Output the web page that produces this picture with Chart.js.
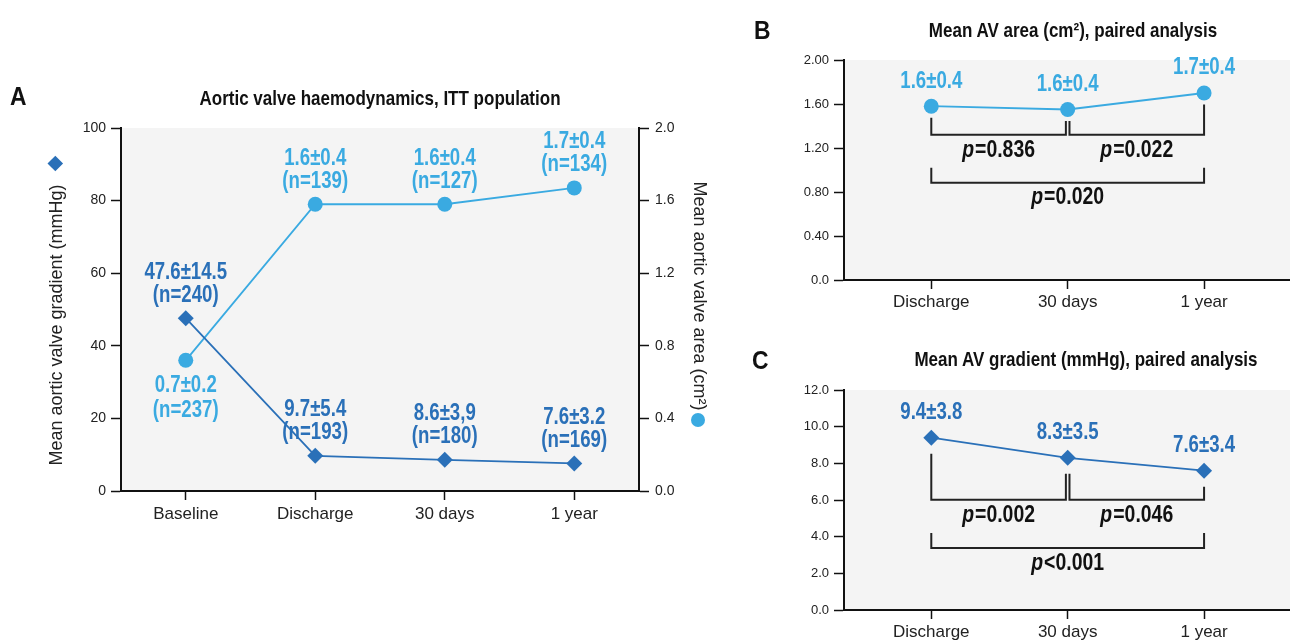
<!DOCTYPE html>
<html><head><meta charset="utf-8">
<script src="https://cdn.jsdelivr.net/npm/chart.js@4.4.1/dist/chart.umd.min.js"></script>
<style>
html,body{margin:0;padding:0;background:#fff;}
body{width:1290px;height:641px;overflow:hidden;position:relative;}
canvas{position:absolute;}
.t{position:absolute;white-space:nowrap;line-height:1;transform:translate(-50%,-50%);color:#111;}
.panel{position:absolute;font:bold 26px "Liberation Sans",sans-serif;line-height:1;transform:translateY(-50%) scaleX(0.88);transform-origin:0 50%;color:#111;}
.title{font:bold 21px "Liberation Sans",sans-serif;transform:translate(-50%,-50%) scaleX(0.81);transform-origin:50% 50%;}
.ax{font:18px "Liberation Sans",sans-serif;color:#222;}
</style></head><body>
<canvas id="cA" width="740" height="641" style="left:0;top:0"></canvas>
<canvas id="cB" width="550" height="330" style="left:740px;top:0"></canvas>
<canvas id="cC" width="550" height="330" style="left:740px;top:330px"></canvas>

<div class="panel" style="left:10px;top:96px">A</div>
<div class="t title" style="left:380px;top:97.5px">Aortic valve haemodynamics, ITT population</div>
<div class="panel" style="left:754px;top:29.5px">B</div>
<div class="t title" style="left:1073px;top:29.5px">Mean AV area (cm²), paired analysis</div>
<div class="panel" style="left:752px;top:360px">C</div>
<div class="t title" style="left:1086px;top:359px">Mean AV gradient (mmHg), paired analysis</div>
<div class="t ax" style="left:55.5px;top:325px;transform:translate(-50%,-50%) rotate(-90deg)">Mean aortic valve gradient (mmHg)</div>
<div class="t ax" style="left:699px;top:296px;transform:translate(-50%,-50%) rotate(90deg)">Mean aortic valve area (cm²)</div>
<div style="position:absolute;left:50px;top:158px;width:10.6px;height:10.6px;background:#2a70b8;transform:rotate(45deg)"></div>
<div style="position:absolute;left:691px;top:413px;width:14px;height:14px;border-radius:50%;background:#3aaae1"></div>

<script>
// ---------- data ----------
const categoriesA = ['Baseline', 'Discharge', '30 days', '1 year'];
const gradientA = [47.6, 9.7, 8.6, 7.6];
const areaA = [0.72, 1.58, 1.58, 1.67];
const gradientTextA = ['47.6±14.5', '9.7±5.4', '8.6±3,9', '7.6±3.2'];
const gradientNA = ['(n=240)', '(n=193)', '(n=180)', '(n=169)'];
const areaTextA = ['0.7±0.2', '1.6±0.4', '1.6±0.4', '1.7±0.4'];
const areaNA = ['(n=237)', '(n=139)', '(n=127)', '(n=134)'];
const gradientTicksA = [0, 20, 40, 60, 80, 100];
const areaTicksA = [0, 0.4, 0.8, 1.2, 1.6, 2.0];
const areaTickLabelsA = ['0.0', '0.4', '0.8', '1.2', '1.6', '2.0'];

const categoriesBC = ['Discharge', '30 days', '1 year'];
const areaB = [1.58, 1.55, 1.70];
const areaTextB = ['1.6±0.4', '1.6±0.4', '1.7±0.4'];
const pValuesB = ['=0.836', '=0.022', '=0.020'];
const areaTicksB = [0, 0.4, 0.8, 1.2, 1.6, 2.0];
const areaTickLabelsB = ['0.0', '0.40', '0.80', '1.20', '1.60', '2.00'];

const gradientC = [9.4, 8.3, 7.6];
const gradientTextC = ['9.4±3.8', '8.3±3.5', '7.6±3.4'];
const pValuesC = ['=0.002', '=0.046', '<0.001'];
const gradientTicksC = [0, 2, 4, 6, 8, 10, 12];
const gradientTickLabelsC = ['0.0', '2.0', '4.0', '6.0', '8.0', '10.0', '12.0'];

// ---------- style ----------
const DARK = '#2a70b8', LIGHT = '#3aaae1', INK = '#111', PLOTBG = '#f4f4f4';
const SANS = '"Liberation Sans", sans-serif';
const LBLFONT = 'bold 23px ' + SANS;
const SQ = 0.81; // horizontal squeeze to imitate a condensed face

function narrowText(ctx, text, x, y, sq) {
  ctx.save(); ctx.translate(x, y); ctx.scale(sq, 1); ctx.fillText(text, 0, 0); ctx.restore();
}

const bgPlugin = { id: 'plotbg', beforeDraw(chart) {
  const { ctx, chartArea: a } = chart;
  ctx.save(); ctx.fillStyle = PLOTBG;
  ctx.fillRect(a.left, a.top, a.right - a.left, a.bottom - a.top);
  ctx.restore();
}};

function labelPlugin(specs) {
  return { id: 'vlabels', afterDatasetsDraw(chart) {
    const ctx = chart.ctx;
    specs.forEach(s => {
      const meta = chart.getDatasetMeta(s.dataset);
      meta.data.forEach((pt, i) => {
        const lines = s.lines.map(arr => arr[i]);
        const below = s.below && s.below.includes(i);
        const offs = below ? [25.5, 50] : (lines.length === 2 ? [-46, -23] : [-25]);
        ctx.save();
        ctx.font = LBLFONT; ctx.fillStyle = s.color;
        ctx.textAlign = 'center'; ctx.textBaseline = 'middle';
        lines.forEach((t, k) => narrowText(ctx, t, pt.x, pt.y + offs[k], SQ));
        ctx.restore();
      });
    });
  }};
}

function drawP(ctx, text, cx, cy) {
  const fi = 'italic bold 24px ' + SANS, fb = 'bold 24px ' + SANS;
  ctx.font = fi; const w1 = ctx.measureText('p').width * SQ;
  ctx.font = fb; const w2 = ctx.measureText(text).width * SQ;
  const x = cx - (w1 + w2 + 1) / 2;
  ctx.textAlign = 'left'; ctx.textBaseline = 'middle'; ctx.fillStyle = INK;
  ctx.font = fi; narrowText(ctx, 'p', x, cy, SQ);
  ctx.font = fb; narrowText(ctx, text, x + w1 + 1, cy, SQ);
}

function bracketPlugin(pvals, g) {
  return { id: 'brackets', afterDatasetsDraw(chart) {
    const ctx = chart.ctx, xs = chart.scales.x, ys = chart.scales.y;
    const pts = chart.getDatasetMeta(0).data;
    const X = i => xs.getPixelForValue(i), Y = v => ys.getPixelForValue(v);
    ctx.save();
    ctx.strokeStyle = '#222'; ctx.lineWidth = 2; ctx.lineCap = 'butt';
    const bar = Y(g.bar);
    const pairs = [[0, 1, 0, -1.8], [1, 2, 1.8, 0]];
    pairs.forEach(([a, b, da, db]) => {
      const xa = X(a) + da, xb = X(b) + db;
      ctx.beginPath();
      ctx.moveTo(xa, pts[a].y + g.gap); ctx.lineTo(xa, bar);
      ctx.lineTo(xb, bar); ctx.lineTo(xb, pts[b].y + g.gap);
      ctx.stroke();
    });
    const top = Y(g.top), bar2 = Y(g.bar2);
    ctx.beginPath();
    ctx.moveTo(X(0), top); ctx.lineTo(X(0), bar2);
    ctx.lineTo(X(2), bar2); ctx.lineTo(X(2), top);
    ctx.stroke();
    drawP(ctx, pvals[0], (X(0) + X(1) - 1.8) / 2, Y(g.plab));
    drawP(ctx, pvals[1], (X(1) + 1.8 + X(2)) / 2, Y(g.plab));
    drawP(ctx, pvals[2], (X(0) + X(2)) / 2, Y(g.plab2));
    ctx.restore();
  }};
}

const tickGrid = (len) => ({ display: true, drawOnChartArea: false, drawTicks: true, tickLength: len, tickColor: INK, tickWidth: 1.5, offset: false });
const axBorder = { display: true, color: INK, width: 2 };

// ---------- Chart A ----------
new Chart(document.getElementById('cA'), {
  type: 'line',
  data: {
    labels: categoriesA,
    datasets: [
      { data: gradientA, yAxisID: 'y', borderColor: DARK, backgroundColor: DARK, borderWidth: 1.8,
        pointStyle: 'rectRot', pointRadius: 8, pointBorderWidth: 0, tension: 0 },
      { data: areaA, yAxisID: 'y2', borderColor: LIGHT, backgroundColor: LIGHT, borderWidth: 1.8,
        pointStyle: 'circle', pointRadius: 7.5, pointBorderWidth: 0, tension: 0 }
    ]
  },
  options: {
    responsive: false, animation: false, devicePixelRatio: 1,
    layout: { autoPadding: false, padding: { top: 128, bottom: 110, left: 0, right: 0 } },
    plugins: { legend: { display: false }, tooltip: { enabled: false }, title: { display: false } },
    scales: {
      x: { type: 'category', offset: true, grid: tickGrid(9), border: axBorder,
           ticks: { font: { family: SANS, size: 17 }, color: '#222', padding: 4, maxRotation: 0, autoSkip: false },
           afterFit(s) { s.height = 40; s.paddingLeft = 0; s.paddingRight = 0; } },
      y: { position: 'left', min: 0, max: 100, grid: tickGrid(10), border: axBorder,
           afterBuildTicks(s) { s.ticks = gradientTicksA.map(v => ({ value: v })); },
           ticks: { font: { family: SANS, size: 14 }, color: '#222', padding: 5 },
           afterFit(s) { s.width = 121; } },
      y2: { position: 'right', min: 0, max: 2, grid: tickGrid(10), border: axBorder,
           afterBuildTicks(s) { s.ticks = areaTicksA.map(v => ({ value: v })); },
           ticks: { font: { family: SANS, size: 14 }, color: '#222', padding: 6,
                    callback: (v, i) => areaTickLabelsA[i] },
           afterFit(s) { s.width = 101; } }
    }
  },
  plugins: [bgPlugin, labelPlugin([
    { dataset: 0, color: DARK, lines: [gradientTextA, gradientNA] },
    { dataset: 1, color: LIGHT, lines: [areaTextA, areaNA], below: [0] }
  ])]
});

// ---------- Charts B and C ----------
function pairedChart(id, values, color, style, radius, ticksV, ticksL, ymax, texts, pvals, geom) {
  return new Chart(document.getElementById(id), {
    type: 'line',
    data: { datasets: [{ data: values.map((v, i) => ({ x: i, y: v })), borderColor: color, backgroundColor: color,
      borderWidth: 1.8, pointStyle: style, pointRadius: radius, pointBorderWidth: 0, tension: 0 }] },
    options: {
      responsive: false, animation: false, devicePixelRatio: 1,
      layout: { autoPadding: false, padding: { top: 60, bottom: 20, left: 0, right: 0 } },
      plugins: { legend: { display: false }, tooltip: { enabled: false } },
      scales: {
        x: { type: 'linear', min: -0.64, max: 2.63, grid: tickGrid(9), border: axBorder,
             afterBuildTicks(s) { s.ticks = categoriesBC.map((c, i) => ({ value: i })); },
             ticks: { font: { family: SANS, size: 17 }, color: '#222', padding: 3, maxRotation: 0, autoSkip: false,
                      callback: v => categoriesBC[v] },
             afterFit(s) { s.height = 30; s.paddingLeft = 0; s.paddingRight = 0; } },
        y: { min: 0, max: ymax, grid: tickGrid(10), border: axBorder,
             afterBuildTicks(s) { s.ticks = ticksV.map(v => ({ value: v })); },
             ticks: { font: { family: SANS, size: 13 }, color: '#222', padding: 5,
                      callback: (v, i) => ticksL[i] },
             afterFit(s) { s.width = 104; } }
      }
    },
    plugins: [bgPlugin, bracketPlugin(pvals, geom), labelPlugin([{ dataset: 0, color: color, lines: [texts] }])]
  });
}

pairedChart('cB', areaB, LIGHT, 'circle', 7.5, areaTicksB, areaTickLabelsB, 2, areaTextB, pValuesB,
  { gap: 11.5, bar: 1.32, plab: 1.18, top: 1.02, bar2: 0.885, plab2: 0.75 });
pairedChart('cC', gradientC, DARK, 'rectRot', 8, gradientTicksC, gradientTickLabelsC, 12, gradientTextC, pValuesC,
  { gap: 16, bar: 6.02, plab: 5.18, top: 4.2, bar2: 3.38, plab2: 2.56 });
</script>
</body></html>
